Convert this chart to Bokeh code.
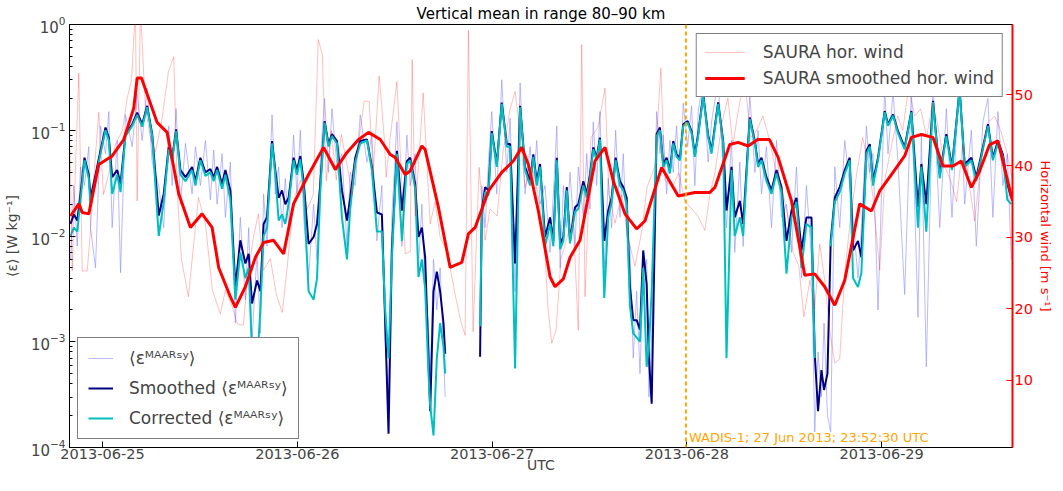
import numpy as np
import pandas as pd
from bokeh.plotting import figure
from bokeh.models import (Range1d, LinearAxis, LinearScale, DatetimeTickFormatter, FixedTicker,
                          LogTicker, Legend, LegendItem, Span, Label)
from bokeh.embed import file_html
from bokeh.resources import INLINE

NaN = float("nan")
base_time = "2013-06-25 00:00:00"
x_start = "2013-06-24 19:56:00"
x_end = "2013-06-29 16:07:00"
day_ticks = ["2013-06-25", "2013-06-26", "2013-06-27", "2013-06-28", "2013-06-29"]
wind_ticks = [10, 20, 30, 40, 50]
wadis_time = "2013-06-27 23:52:30"
wadis_text = "WADIS-1; 27 Jun 2013; 23:52:30 UTC"

# hours since 2013-06-25 00:00 UTC
eps_hours = [-3.94, -3.53, -3.11, -2.71, -2.22, -1.69, -1.48, -0.86, -0.25, 0.37, 0.78, 1.19, 1.81, 2.22, 2.83,
             3.66, 4.27, 4.89, 5.50, 6.12, 6.93, 7.54, 8.16, 8.58, 9.07, 9.60, 10.22, 11.04, 11.45, 12.06,
             12.68, 13.29, 13.70, 14.12, 14.73, 15.14, 15.75, 16.37, 16.98, 17.60, 18.01, 18.42, 19.04, 19.45,
             19.85, 20.27, 20.89, 21.29, 21.70, 22.12, 22.52, 22.93, 23.54, 23.96, 24.37, 24.78, 25.39, 26.01,
             26.43, 26.83, 27.36, 27.85, 28.27, 28.89, 29.50, 30.12, 30.52, 31.14, 31.75, 32.58, 33.19, 33.81,
             34.42, 34.83, 35.24, 35.65, 36.27, 36.89, 37.50, 37.91, 38.52, 38.93, 39.35, 39.75, 40.16, 40.37,
             40.78, 41.19, 41.60, 42.01, 42.22, 44.00, 46.52, 46.73, 47.14, 47.55, 47.96, 48.58, 49.19, 49.81,
             50.22, 50.83, 51.45, 52.06, 52.68, 53.08, 53.50, 53.91, 54.52, 55.14, 55.55, 55.97, 56.38, 56.78,
             57.20, 57.60, 58.22, 58.62, 59.24, 59.66, 60.06, 60.47, 60.89, 61.29, 61.82, 62.31, 62.73, 63.22,
             63.75, 64.16, 64.58, 64.98, 65.39, 65.81, 66.22, 66.62, 67.04, 67.32, 67.66, 68.27, 68.68, 69.08,
             69.50, 69.91, 70.32, 70.73, 71.14, 71.55, 72.09, 72.58, 72.98, 73.39, 74.01, 74.62, 75.04, 75.85,
             76.47, 76.88, 77.50, 77.90, 78.52, 78.93, 79.75, 80.37, 80.77, 81.19, 81.80, 82.42, 83.04, 83.65,
             84.27, 84.89, 85.50, 86.12, 86.73, 87.35, 87.75, 88.16, 88.58, 88.90, 89.32, 89.72, 90.22, 90.83,
             91.45, 92.06, 92.47, 93.08, 93.50, 94.12, 94.53, 94.93, 95.55, 96.37, 96.78, 97.40, 98.01, 98.83,
             99.66, 100.47, 100.89, 101.50, 102.32, 103.15, 103.97, 104.66, 105.60, 106.22, 107.05, 107.66,
             108.47, 109.09, 109.70, 110.32, 110.94, 111.48, 111.97]

eps_smoothed = [0.013, 0.016, 0.014, 0.025, 0.055, 0.038, 0.023, 0.038, 0.064, 0.106, 0.085, 0.036, 0.042, 0.031, 0.092,
                0.114, 0.147, 0.114, 0.170, 0.092, 0.0156, 0.025, 0.069, 0.055, 0.102, 0.042, 0.036, 0.045, 0.033, 0.055,
                0.040, 0.043, 0.036, 0.045, 0.031, 0.042, 0.027, 0.0033, 0.0091, 0.0055, 0.0068, 0.0023, 0.0038, 0.0030,
                0.013, 0.0151, 0.079, 0.042, 0.023, 0.027, 0.020, 0.023, 0.055, 0.042, 0.057, 0.033, 0.0084, 0.0098,
                0.013, 0.031, 0.122, 0.074, 0.092, 0.079, 0.027, 0.014, 0.023, 0.055, 0.079, 0.082, 0.045, 0.0167,
                0.016, 0.0015, 0.000135, 0.0073, 0.064, 0.0174, 0.051, 0.055, 0.031, 0.0098, 0.012, 0.0063, 0.00072, 0.00022,
                0.0030, 0.0046, 0.0030, 0.0015, 0.00077, NaN, 0.00072, 0.0174, 0.029, 0.027, 0.098, 0.048, 0.183, 0.074,
                0.074, 0.0055, 0.170, 0.045, 0.033, 0.059, 0.033, 0.048, 0.0098, 0.015, 0.009, 0.055, 0.0084, 0.0098,
                0.029, 0.0091, 0.0187, 0.020, 0.033, 0.025, 0.038, 0.069, 0.055, 0.085, 0.009, 0.0174, 0.023, 0.055,
                0.033, 0.029, 0.023, 0.0033, 0.0016, 0.0016, 0.0013, 0.0073, 0.0035, 0.00072, 0.00026, 0.092, 0.106, 0.048,
                0.055, 0.042, 0.079, 0.059, 0.055, 0.114, 0.122, 0.098, 0.059, 0.092, 0.219, 0.090, 0.064, 0.183,
                0.079, 0.0174, 0.045, 0.015, 0.0215, 0.013, 0.132, 0.079, 0.048, 0.055, 0.036, 0.027, 0.042, 0.029,
                0.009, 0.0174, 0.023, 0.0073, 0.015, 0.015, 0.00077, 0.00022, 0.00054, 0.00035, 0.0005, 0.009, 0.023, 0.029,
                0.042, 0.055, 0.0073, 0.009, 0.0063, 0.064, 0.074, 0.033, 0.055, 0.152, 0.114, 0.141, 0.098, 0.069,
                0.152, 0.0187, 0.048, 0.020, 0.190, 0.038, 0.092, 0.045, 0.244, 0.048, 0.055, 0.036,
                0.069, 0.114, 0.055, 0.079, 0.059, 0.031, 0.023]

eps_corrected = [0.010, 0.012, 0.011, 0.022, 0.052, 0.035, 0.019, 0.034, 0.060, 0.100, 0.080, 0.025, 0.038, 0.026, 0.088,
                 0.110, 0.140, 0.108, 0.165, 0.088, 0.0100, 0.021, 0.066, 0.052, 0.098, 0.038, 0.033, 0.042, 0.030, 0.052,
                 0.037, 0.040, 0.033, 0.042, 0.028, 0.038, 0.022, 0.0025, 0.0070, 0.0040, 0.0050, 0.0008, 0.0006, 0.0020,
                 0.010, 0.012, 0.075, 0.038, 0.014, 0.016, 0.013, 0.020, 0.052, 0.038, 0.053, 0.028, 0.0030, 0.0025,
                 0.0040, 0.026, 0.118, 0.070, 0.088, 0.075, 0.015, 0.0060, 0.018, 0.050, 0.075, 0.080, 0.042, 0.011,
                 0.011, 0.0020, 0.0007, 0.0060, 0.060, 0.009, 0.048, 0.052, 0.028, 0.0041, 0.0060, 0.0032, 0.0005, 0.00025,
                 0.00013, 0.0007, 0.0015, 0.0009, 0.0005, NaN, 0.0014, 0.015, 0.026, 0.024, 0.094, 0.045, 0.178, 0.070,
                 0.070, 0.00056, 0.165, 0.042, 0.030, 0.056, 0.030, 0.045, 0.0080, 0.013, 0.008, 0.052, 0.0075, 0.009,
                 0.027, 0.0085, 0.017, 0.018, 0.030, 0.023, 0.035, 0.066, 0.052, 0.082, 0.0026, 0.015, 0.021, 0.052,
                 0.030, 0.027, 0.020, 0.0022, 0.0012, 0.0011, 0.0010, 0.0050, 0.00058, 0.0009, 0.0030, 0.088, 0.100, 0.045,
                 0.052, 0.039, 0.075, 0.056, 0.052, 0.110, 0.118, 0.094, 0.056, 0.088, 0.210, 0.086, 0.060, 0.178,
                 0.075, 0.0007, 0.042, 0.010, 0.015, 0.010, 0.128, 0.075, 0.045, 0.052, 0.033, 0.025, 0.039, 0.026,
                 0.0044, 0.015, 0.021, 0.005, 0.013, 0.012, 0.0007, NaN, NaN, NaN, NaN, 0.008, 0.021, 0.026,
                 0.039, 0.052, 0.0040, 0.0033, 0.0045, 0.060, 0.070, 0.030, 0.052, 0.148, 0.110, 0.137, 0.094, 0.066,
                 0.148, 0.012, 0.045, 0.011, 0.185, 0.035, 0.088, 0.042, 0.238, 0.045, 0.052, 0.033,
                 0.066, 0.110, 0.052, 0.075, 0.056, 0.022, 0.020]

eps_raw = [0.006, 0.030, 0.008, 0.045, 0.030, 0.070, 0.012, 0.005, 0.110, 0.060, 0.150, 0.012, 0.080, 0.0045, 0.140,
           0.070, 0.220, 0.080, 0.250, 0.050, 0.030, 0.012, 0.110, 0.030, 0.160, 0.020, 0.075, 0.025, 0.070, 0.030,
           0.080, 0.022, 0.065, 0.020, 0.060, 0.015, 0.050, 0.0015, 0.015, 0.0025, 0.012, 0.0010, 0.0070, 0.0012,
           0.025, 0.008, 0.140, 0.025, 0.045, 0.012, 0.035, 0.012, 0.090, 0.025, 0.100, 0.015, 0.0040, 0.020,
           0.006, 0.050, 0.200, 0.040, 0.160, 0.045, 0.060, 0.008, 0.040, 0.030, 0.140, 0.050, 0.090, 0.009,
           0.030, 0.0010, 0.0003, 0.0150, 0.120, 0.008, 0.090, 0.030, 0.060, 0.005, 0.020, 0.0030, 0.0015, 0.0004,
           0.0060, 0.0020, 0.0050, 0.0008, 0.0003, NaN, 0.0012, 0.030, 0.012, 0.050, 0.150, 0.025, 0.300, 0.040,
           0.130, 0.0030, 0.280, 0.025, 0.070, 0.030, 0.080, 0.020, 0.030, 0.007, 0.025, 0.110, 0.005, 0.030,
           0.012, 0.040, 0.008, 0.045, 0.015, 0.060, 0.018, 0.120, 0.030, 0.150, 0.005, 0.035, 0.012, 0.100,
           0.015, 0.060, 0.010, 0.0080, 0.0007, 0.0030, 0.0005, 0.0040, 0.0060, 0.0003, 0.0012, 0.150, 0.060, 0.090,
           0.025, 0.080, 0.040, 0.110, 0.025, 0.180, 0.070, 0.170, 0.030, 0.150, 0.300, 0.050, 0.120, 0.300,
           0.040, 0.012, 0.080, 0.007, 0.050, 0.008, 0.220, 0.040, 0.100, 0.025, 0.070, 0.012, 0.080, 0.015,
           0.020, 0.007, 0.045, 0.004, 0.030, 0.006, 0.00014, 0.0008, 0.0003, 0.0015, 0.0002, 0.00014, 0.045, 0.012,
           0.080, 0.030, 0.015, 0.004, 0.012, 0.110, 0.040, 0.060, 0.002, 0.250, 0.060, 0.230, 0.050, 0.0028,
           0.250, 0.0017, 0.090, 0.00058, 0.300, 0.012, 0.160, 0.015, 0.350, 0.020, 0.100, 0.008,
           0.120, 0.200, 0.015, 0.150, 0.030, 0.060, 0.006]

wind_hours = [-4.18, -3.73, -3.32, -2.92, -2.50, -1.88, -1.48, -1.11, -0.46, 0.12, 0.74, 1.60, 2.46, 3.04, 3.57,
              4.06, 4.27, 4.68, 5.29, 5.91, 6.52, 7.26, 8.12, 8.78, 9.23, 9.72, 10.58, 11.82, 12.68, 13.54,
              14.52, 15.14, 15.88, 16.62, 17.35, 17.85, 18.58, 19.20, 19.82, 20.68, 21.42, 22.15, 22.77, 23.51,
              24.37, 25.23, 25.97, 26.58, 27.08, 27.57, 28.19, 28.80, 29.42, 30.15, 30.77, 31.39, 32.25, 32.86,
              33.35, 34.09, 34.71, 34.95, 35.45, 36.27, 36.68, 37.29, 37.91, 38.15, 38.52, 39.51, 40.37, 40.98,
              41.60, 42.46, 43.45, 44.19, 44.68, 45.08, 45.66, 46.40, 47.14, 47.75, 48.62, 49.35, 50.22, 50.83,
              51.32, 52.06, 52.92, 53.66, 54.40, 54.89, 55.35, 55.88, 56.49, 57.23, 57.97, 58.62, 59.04, 59.45,
              60.18, 61.04, 61.91, 62.40, 63.14, 64.00, 64.74, 65.60, 66.46, 67.08, 68.06, 68.80, 69.29, 70.15,
              71.02, 71.75, 72.62, 73.35, 74.22, 74.83, 75.45, 76.31, 77.05, 77.66, 78.52, 79.14, 79.88, 80.62,
              81.36, 82.10, 82.84, 83.70, 84.44, 85.06, 85.79, 86.41, 87.15, 87.75, 88.37, 88.98, 89.60, 90.22,
              90.83, 91.45, 92.19, 92.93, 93.66, 94.40, 94.89, 95.76, 96.37, 97.23, 97.97, 98.59, 99.33, 100.06,
              100.80, 101.54, 102.28, 103.02, 103.75, 104.49, 105.23, 105.97, 106.71, 107.45, 108.18, 109.05,
              109.91, 110.65, 111.39, 112.12]

wind_raw = [53.0, 25.3, 40.0, 53.0, 25.3, 25.3, 31.0, 38.0, 47.5, 36.0, 38.8, 43.0, 45.0, 49.5, 52.0,
            62.0, 35.1, 62.0, 48.0, 44.0, 42.0, 46.0, 53.2, 55.3, 36.0, 27.0, 21.7, 35.6, 31.9, 22.6,
            19.3, 22.6, 20.7, 17.9, 17.7, 24.0, 30.0, 33.3, 25.4, 27.0, 22.0, 19.5, 26.0, 35.0,
            38.0, 34.0, 36.0, 57.7, 55.6, 37.9, 45.0, 38.0, 44.4, 40.0, 36.0, 42.0, 49.1, 49.0,
            39.0, 52.6, 44.0, 38.4, 44.0, 51.8, 42.0, 27.7, 28.0, 54.9, 33.0, 50.2, 31.9, 35.0,
            30.0, 28.0, 22.0, 18.0, 16.3, 59.0, 16.8, 39.8, 29.6, 34.0, 33.0, 42.0, 48.0, 50.4,
            46.0, 37.0, 40.0, 36.0, 30.0, 20.0, 15.2, 17.0, 27.0, 30.0, 33.0, 17.0, 57.0, 21.7,
            44.0, 45.4, 50.9, 36.0, 32.0, 36.0, 30.0, 26.0, 31.0, 37.0, 40.0, 53.7, 38.0, 37.0,
            39.0, 35.0, 34.0, 33.0, 31.0, 36.0, 39.0, 46.0, 49.5, 43.0, 49.0, 51.8, 44.0, 45.0,
            47.0, 44.0, 40.0, 37.0, 33.0, 28.0, 26.0, 18.9, 24.0, 20.0, 29.1, 24.0, 17.0, 12.4,
            13.0, 25.0, 33.0, 39.0, 44.0, 40.0, 36.0, 25.4, 38.0, 43.0, 47.0, 45.0, 51.0, 47.0,
            48.0, 44.0, 49.0, 45.0, 40.0, 38.0, 35.0, 43.0, 38.0, 32.3, 40.0, 46.0,
            47.0, 45.0, 42.0, 38.0]

wind_smooth_hours = [-3.94, -2.92, -2.50, -1.69, -0.46, 1.19, 2.62, 3.85, 4.27, 4.80, 6.73, 7.96, 9.39, 10.83,
                     12.27, 13.50, 14.31, 15.75, 16.37, 17.60, 18.83, 19.85, 21.08, 22.31, 23.54, 25.39, 27.24,
                     28.68, 30.12, 31.55, 32.78, 34.22, 35.45, 36.06, 37.29, 37.91, 39.35, 39.75, 41.39, 42.83,
                     44.27, 45.08, 45.91, 47.55, 49.19, 50.62, 51.65, 52.47, 53.70, 55.14, 55.75, 56.78, 57.60,
                     58.83, 60.68, 61.91, 62.93, 64.37, 65.81, 66.83, 68.89, 70.93, 72.98, 74.83, 75.45, 77.29,
                     78.32, 79.55, 80.74, 82.18, 83.24, 84.89, 86.52, 87.75, 88.98, 90.22, 91.45, 93.29, 94.73,
                     95.76, 97.20, 98.83, 99.66, 100.89, 102.32, 103.55, 104.78, 105.82, 107.05, 108.07, 109.30,
                     110.32, 112.12]

wind_smooth = [33.0, 34.7, 33.5, 33.3, 40.2, 41.4, 43.7, 48.1, 52.3, 52.3, 46.1, 44.7, 36.1, 31.4,
               33.3, 31.4, 25.8, 21.7, 20.2, 23.1, 27.2, 29.3, 29.6, 27.7, 34.7, 38.8, 42.6,
               39.5, 41.9, 43.7, 44.7, 43.7, 41.6, 41.2, 38.8, 39.3, 42.8, 42.3, 34.2, 25.8,
               26.5, 30.5, 31.4, 36.5, 39.1, 40.7, 42.6, 40.2, 33.7, 24.5, 23.1, 24.2, 27.2,
               29.6, 40.7, 42.6, 37.9, 33.3, 31.2, 32.3, 39.8, 35.8, 36.3, 36.3, 37.0, 43.0,
               43.3, 42.8, 43.7, 43.7, 41.2, 35.1, 24.7, 24.9, 23.1, 20.5, 24.0, 34.7, 33.7,
               36.5, 38.8, 41.4, 44.0, 44.4, 44.0, 40.0, 40.0, 40.7, 37.0, 39.3, 43.0,
               43.5, 35.1]


def to_time(hours):
    return pd.Timestamp(base_time) + pd.to_timedelta(np.array(hours, dtype=float), unit="h")


def ms(ts):
    return pd.Timestamp(ts).value / 1e6


t_eps = to_time(eps_hours)
t_wind = to_time(wind_hours)
t_wsm = to_time(wind_smooth_hours)

FONT = "DejaVu Sans"

p = figure(width=1055, height=475, x_axis_type="datetime", y_axis_type="log",
           x_range=Range1d(pd.Timestamp(x_start), pd.Timestamp(x_end)),
           y_range=Range1d(1e-4, 1.0),
           output_backend="svg", toolbar_location=None,
           min_border_left=66, min_border_right=0, min_border_top=2, min_border_bottom=0)
p.extra_y_ranges = {"wind": Range1d(0.6, 59.8)}
p.extra_y_scales = {"wind": LinearScale()}

p.title.text = "Vertical mean in range 80\u201390 km"
p.title.align = "center"
p.title.text_font = FONT
p.title.text_font_size = "15px"
p.title.text_font_style = "normal"
p.title.text_color = "black"
p.title.standoff = 4

p.grid.visible = False
p.outline_line_color = "black"
p.outline_line_width = 1
p.background_fill_color = "white"
p.border_fill_color = "white"

# x axis
xa = p.xaxis[0]
xa.ticker = FixedTicker(ticks=[ms(d) for d in day_ticks])
fmt = "%Y-%m-%d"
xa.formatter = DatetimeTickFormatter(microseconds=fmt, milliseconds=fmt, seconds=fmt, minsec=fmt,
                                     minutes=fmt, hourmin=fmt, hours=fmt, days=fmt, months=fmt, years=fmt)
xa.axis_label = "UTC"
xa.axis_label_text_font = FONT
xa.axis_label_text_font_size = "14px"
xa.axis_label_text_font_style = "normal"
xa.axis_label_standoff = -5
xa.major_label_text_font = FONT
xa.major_label_text_font_size = "14.5px"
xa.major_label_standoff = 1
xa.major_tick_in = 6
xa.major_tick_out = 0
xa.minor_tick_line_color = None
xa.axis_line_color = "black"

# left (log) axis
ya = p.yaxis[0]
ya.ticker = LogTicker(desired_num_ticks=5, mantissas=[1], num_minor_ticks=10)
ya.axis_label = "\u27e8\u03b5\u27e9 [W kg\u207b\u00b9]"
ya.axis_label_text_font = FONT
ya.axis_label_text_font_size = "14px"
ya.axis_label_text_font_style = "normal"
ya.axis_label_standoff = 8
ya.major_label_text_font = FONT
ya.major_label_text_font_size = "15px"
ya.major_label_standoff = 4
ya.major_tick_in = 6
ya.major_tick_out = 0
ya.minor_tick_in = 3
ya.minor_tick_out = 0
ya.axis_line_color = "black"

# right (wind) axis
ra = LinearAxis(y_range_name="wind", ticker=FixedTicker(ticks=wind_ticks))
ra.axis_label = "Horizontal wind [m s\u207b\u00b9]"
ra.axis_label_text_font = FONT
ra.axis_label_text_font_size = "13px"
ra.axis_label_text_font_style = "normal"
ra.axis_label_text_color = "red"
ra.axis_label_standoff = 2
ra.major_label_text_font = FONT
ra.major_label_text_font_size = "14.5px"
ra.major_label_text_color = "red"
ra.major_label_standoff = 2
ra.major_tick_in = 6
ra.major_tick_out = 0
ra.major_tick_line_color = "red"
ra.minor_tick_line_color = None
ra.axis_line_color = "red"
ra.axis_line_width = 2
p.add_layout(ra, "right")

# epsilon series
r_raw = p.line(t_eps, eps_raw, line_color="#8c8cff", line_alpha=0.6, line_width=1)
r_sm = p.line(t_eps, eps_smoothed, line_color="navy", line_width=2)
r_co = p.line(t_eps, eps_corrected, line_color="#00BFBF", line_width=2)

# wind series
r_wr = p.line(t_wind, wind_raw, line_color="red", line_alpha=0.25, line_width=1, y_range_name="wind")
r_ws = p.line(t_wsm, wind_smooth, line_color="red", line_width=3, y_range_name="wind")

# WADIS marker
p.add_layout(Span(location=ms(wadis_time), dimension="height", line_color="orange",
                  line_width=2, line_dash="4 3"))
p.add_layout(Label(x=ms(wadis_time), y=3, y_units="screen", x_offset=3, text=wadis_text,
                   text_color="orange", text_font=FONT, text_font_size="13px", text_baseline="bottom"))

mt = "\u27e8\u03b5\u1d39\u1d2c\u1d2c\u1d3f\u02e2\u02b8\u27e9"
leg1 = Legend(items=[LegendItem(label=mt, renderers=[r_raw]),
                     LegendItem(label="Smoothed " + mt, renderers=[r_sm]),
                     LegendItem(label="Corrected " + mt, renderers=[r_co])],
              location="bottom_left", margin=8, padding=10, spacing=10,
              glyph_width=25, glyph_height=20, label_height=20, label_standoff=16,
              label_text_font=FONT, label_text_font_size="17px",
              border_line_color="black", border_line_width=1, background_fill_alpha=1.0)
leg2 = Legend(items=[LegendItem(label="SAURA hor. wind", renderers=[r_wr]),
                     LegendItem(label="SAURA smoothed hor. wind", renderers=[r_ws])],
              location="top_right", margin=9, padding=8, spacing=6,
              glyph_width=40, glyph_height=20, label_height=20, label_standoff=18,
              label_text_font=FONT, label_text_font_size="17px",
              border_line_color="black", border_line_width=1, background_fill_alpha=1.0)
p.add_layout(leg1)
p.add_layout(leg2)

open("out.html", "w").write(file_html(p, INLINE))
